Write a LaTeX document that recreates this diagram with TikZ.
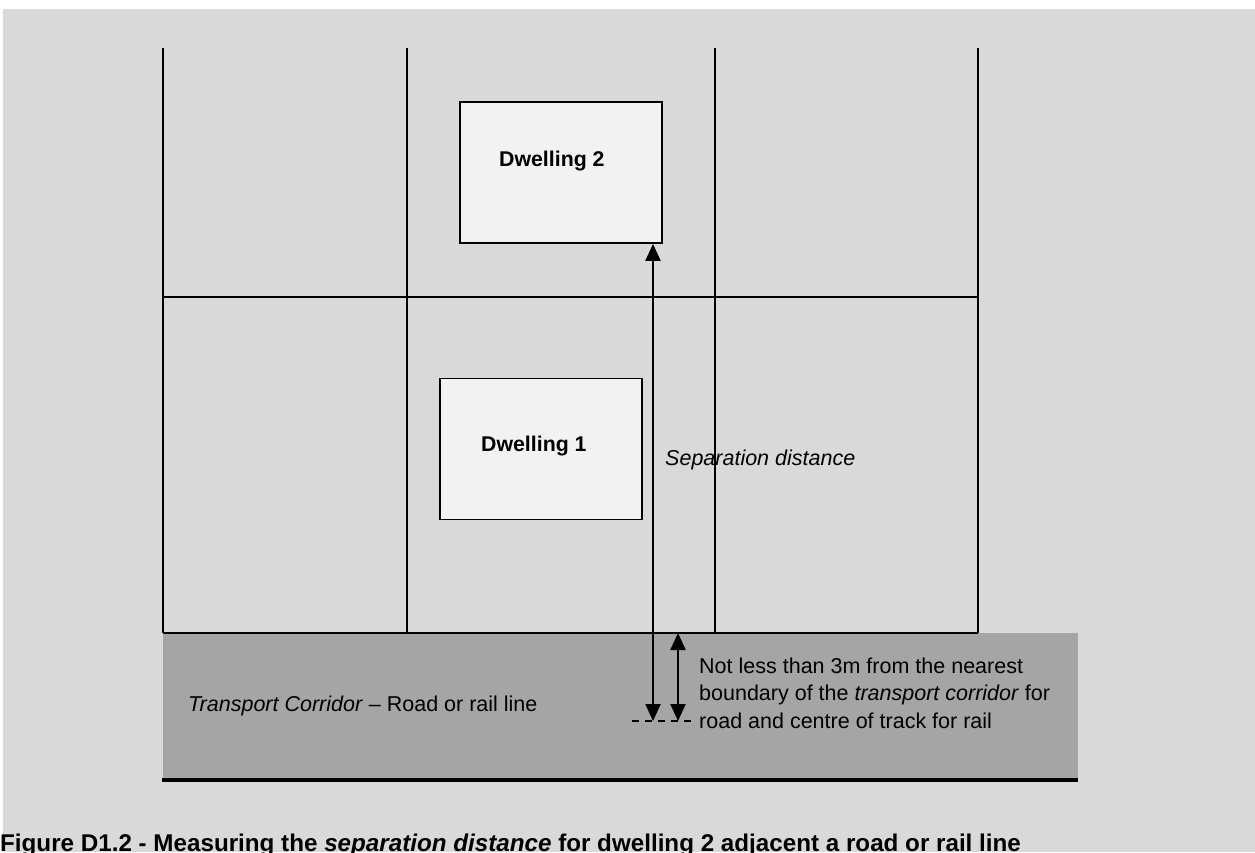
\documentclass[tikz,border=0pt]{standalone}
\usepackage{fontspec}
\setmainfont{Liberation Sans}
\usetikzlibrary{arrows.meta}
\definecolor{bggray}{HTML}{D9D9D9}
\definecolor{corridor}{HTML}{A5A5A5}
\definecolor{dwfill}{HTML}{F2F2F2}
\tikzset{
  gridline/.style={line width=1.8pt, black},
  dwbox/.style={draw, line width=1.8pt, fill=dwfill, inner sep=0pt, minimum width=202pt, minimum height=141pt},
  dwlabel/.style={anchor=base west, inner sep=0pt, font=\fontsize{21.3}{25}\selectfont\bfseries},
  txt/.style={anchor=base west, inner sep=0pt, font=\fontsize{21.5}{25}\selectfont},
  dimarrow/.style={line width=2.2pt, {Triangle[width=15pt,length=17pt]}-{Triangle[width=15pt,length=17pt]}},
  dashref/.style={line width=1.8pt, dash pattern=on 7pt off 6pt}
}
\begin{document}
\begin{tikzpicture}[x=1pt,y=-1pt]
\useasboundingbox (0,0) rectangle (1255,852);
\fill[white] (0,0) rectangle (1255,852);
\fill[bggray] (3,9) rectangle (1255,852);
% corridor
\fill[corridor] (163,633) rectangle (1078,780);
\draw[line width=4pt] (162,780) -- (1078,780);
% grid
\draw[gridline] (163,48) -- (163,633);
\draw[gridline] (407,48) -- (407,633);
\draw[gridline] (715,48) -- (715,633);
\draw[gridline] (978,48) -- (978,633);
\draw[gridline] (163,297) -- (978,297);
\draw[gridline] (163,633) -- (978,633);
% dwellings
\node[dwbox] (d2) at (561,172.5) {};
\node[dwbox] (d1) at (541,449) {};
\node[dwlabel] (d2lbl) at (499,166) {Dwelling 2};
\node[dwlabel] (d1lbl) at (481,451) {Dwelling 1};
% reference points
\coordinate (endA) at (653,721);
\coordinate (endB) at (678,721);
\coordinate (dashL) at (632,721);
\coordinate (dashR) at (697,721);
\coordinate (corTop) at (678,633);
\draw[dashref] (dashL) -- (dashR);
\draw[dimarrow] (endA) -- (endA |- d2.south);
\draw[dimarrow] (endB) -- (corTop);
% texts
\node[txt] (sep) at (665,465) {\itshape Separation distance};
\node[txt] (tc) at (188,711) {\itshape Transport Corridor\/\upshape{} – Road or rail line};
\node[txt] (n1) at (699,673) {Not less than 3m from the nearest};
\node[txt] (n2) at (699,700) {boundary of the \textit{transport corridor} for};
\node[txt] (n3) at (699,728) {road and centre of track for rail};
\node[anchor=base west, inner sep=0pt, font=\fontsize{24.2}{28}\selectfont\bfseries] (cap) at (0,851) {Figure D1.2 - Measuring the \textit{separation distance} for dwelling 2 adjacent a road or rail line};
\end{tikzpicture}
\end{document}
